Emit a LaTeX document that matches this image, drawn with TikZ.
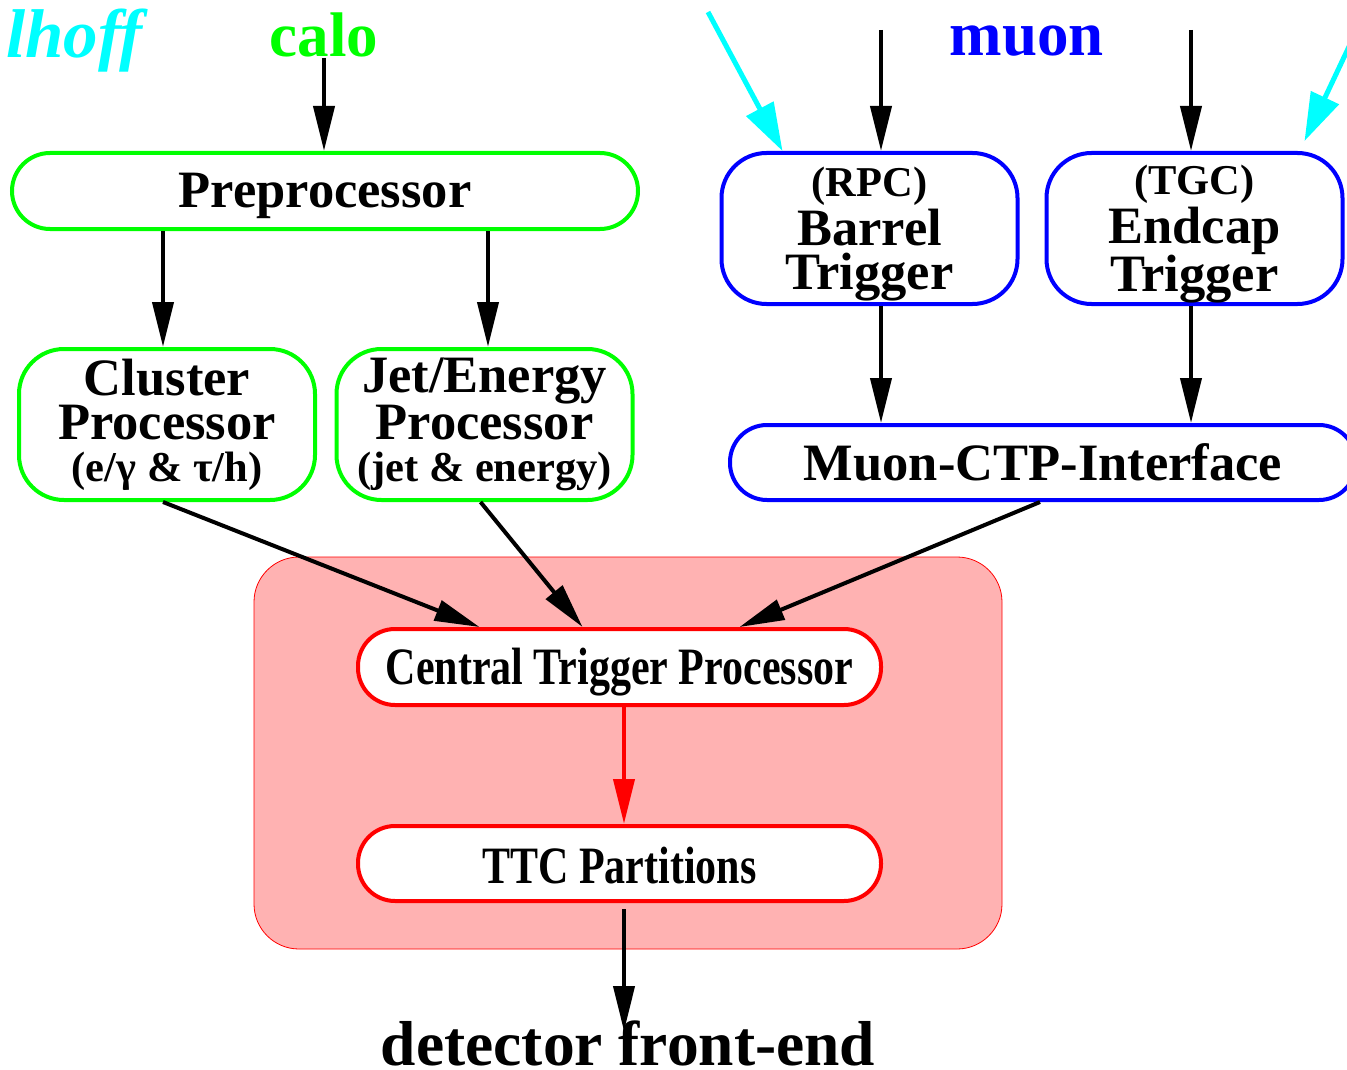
\documentclass[tikz,border=0pt]{standalone}
\usepackage{fontspec}
\setmainfont{Liberation Serif}
\newfontfamily\narrowfont{Liberation Serif}[FakeStretch=0.8]
\usetikzlibrary{arrows.meta}
\definecolor{caloC}{RGB}{0,255,0}
\definecolor{muonC}{RGB}{0,0,255}
\definecolor{ctpC}{RGB}{255,0,0}
\definecolor{ctpBg}{RGB}{255,178,178}
\definecolor{authC}{RGB}{0,255,255}
\newcommand{\bigtxt}{\fontsize{52.5}{44}\selectfont\bfseries}
\newcommand{\smalltxt}{\fontsize{42.5}{40}\selectfont\bfseries}
\newcommand{\headtxt}{\fontsize{63}{63}\selectfont\bfseries}
\newcommand{\lowertxt}[2]{\raisebox{-#1}[\height][\depth]{#2}}

\begin{document}
\begin{tikzpicture}[x=1pt,y=-1pt,>={Triangle[length=45pt,width=21pt]},
  box/.style={draw,line width=4pt,fill=white,text=black,inner sep=0pt,align=center,
    rounded corners=45pt,minimum width=296pt,minimum height=151pt,font=\bigtxt},
  calobox/.style={box,draw=caloC},
  muonbox/.style={box,draw=muonC},
  ctpbox/.style={box,draw=ctpC,minimum width=523pt,minimum height=76pt,rounded corners=37pt,font=\bigtxt\narrowfont},
  lbl/.style={inner sep=0pt,anchor=base,font=\headtxt},
  arr/.style={->,line width=4pt}]
\useasboundingbox (0,0) rectangle (1347,1070);
\clip (0,0) rectangle (1347,1070);
\draw[ctpC,fill=ctpBg,line width=0.8pt,rounded corners=45pt] (254,557) rectangle (1002,949);
\node[lbl,anchor=base west,authC,font=\fontsize{69}{69}\selectfont\bfseries\itshape] (auth) at (6,58) {lhoff};
\node[lbl,caloC] (calo) at (324,57) {calo};
\node[lbl,muonC] (muon) at (1027,56) {muon};
\node[calobox,minimum width=626pt,minimum height=76pt,rounded corners=38pt] (pre) at (325,191) {\lowertxt{5pt}{Preprocessor}};
\node[calobox] (clu) at (167,424.5) {Cluster\\Processor\\[-2pt]{\smalltxt (e/γ \& τ/h)}};
\node[calobox] (jet) at (484.5,424.5) {Jet/Energy\\Processor\\[-2pt]{\smalltxt (jet \& energy)}};
\node[muonbox] (bar) at (869.5,228.5) {{\smalltxt\rule{0pt}{41pt}(RPC)}\\[2pt]Barrel\\Trigger};
\node[muonbox] (end) at (1194.5,228.5) {{\smalltxt\rule{0pt}{41pt}(TGC)}\\[2pt]Endcap\\Trigger};
\node[muonbox,minimum width=626pt,minimum height=75pt,rounded corners=37pt] (mci) at (1043,462.5) {Muon-CTP-Interface};
\node[ctpbox] (ctp) at (619.5,667) {\lowertxt{5pt}{Central Trigger Processor}};
\node[ctpbox,minimum height=75pt] (ttc) at (619.5,863.5) {\lowertxt{2pt}{TTC Partitions}};
\node[lbl,font=\fontsize{63.5}{63}\selectfont\bfseries] (det) at (628,1065) {detector front-end};
\coordinate (barin) at (881,30);
\coordinate (endin) at (1191,30);
\coordinate (hoffL) at (708,12);
\coordinate (hoffR) at (1371,0);
\draw[arr] (calo.south) -- (calo.south |- pre.north);
\draw[arr] (barin) -- (barin |- bar.north);
\draw[arr] (endin) -- (endin |- end.north);
\draw[arr,authC,line width=5pt,>={Triangle[length=48pt,width=30pt]}] (hoffL) -- ([xshift=-87pt]bar.north);
\draw[arr,authC,line width=5pt,>={Triangle[length=48pt,width=30pt]}] (hoffR) -- ([xshift=110pt,yshift=10pt]end.north);
\draw[arr] ([xshift=-4pt]clu.north |- pre.south) -- ([xshift=-4pt]clu.north);
\draw[arr] ([xshift=3.5pt]jet.north |- pre.south) -- ([xshift=3.5pt]jet.north);
\draw[arr] (barin |- bar.south) -- (barin |- mci.north);
\draw[arr] (endin |- end.south) -- (endin |- mci.north);
\draw[arr] ([xshift=-4pt]clu.south) -- ([xshift=-140pt]ctp.north);
\draw[arr] ([xshift=-4pt]jet.south) -- ([xshift=-37pt]ctp.north);
\draw[arr] ([xshift=-3pt]mci.south) -- ([xshift=120pt]ctp.north);
\draw[arr,ctpC] ([xshift=4.5pt]ctp.south) -- ([xshift=4.5pt]ttc.north);
\draw[arr] ([xshift=4.5pt,yshift=-6pt]ttc.south) -- ([xshift=-4pt,yshift=-11pt]det.north);
\end{tikzpicture}
\end{document}
